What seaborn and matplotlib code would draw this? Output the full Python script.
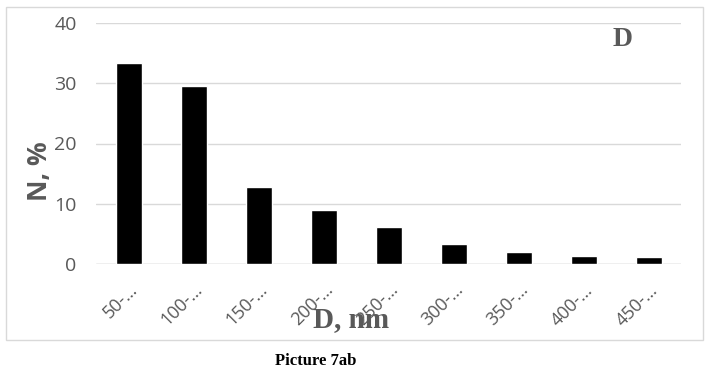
import matplotlib
matplotlib.use("Agg")
import matplotlib.pyplot as plt
import matplotlib.transforms as mtransforms
from matplotlib.patches import Rectangle
import seaborn as sns
import pandas as pd

categories = ["50-…", "100-…", "150-…", "200-…", "250-…", "300-…", "350-…", "400-…", "450-…"]
values = [33.4, 29.5, 12.7, 8.9, 6.2, 3.4, 2.0, 1.4, 1.1]
yticks = [0, 10, 20, 30, 40]

df = pd.DataFrame({"cat": categories, "val": values})

sns.set_theme(style="white")
plt.rcParams["font.family"] = ["Open Sans", "DejaVu Sans"]

fig = plt.figure(figsize=(7.12, 3.73), dpi=100)
ax = fig.add_axes([96/712, 1 - 264/373, (681 - 96)/712, (264 - 23)/373])

sns.barplot(data=df, x="cat", y="val", color="black", width=0.4,
            saturation=1, ax=ax, order=categories)

ax.set_ylim(0, 40)
ax.set_yticks(yticks)
ax.set_xlim(-0.5, len(categories) - 0.5)
ax.grid(axis="y", color="#d9d9d9", linewidth=1)
ax.set_axisbelow(True)
for s in ax.spines.values():
    s.set_visible(False)
ax.axhline(0, color="#d0d0d0", linewidth=1, zorder=0.5)
ax.tick_params(axis="y", length=0, pad=14, labelsize=14, labelcolor="#595959")
ax.tick_params(axis="x", length=0, pad=12, labelsize=13, labelcolor="#595959")
ax.set_xlabel("")
ax.set_ylabel("N, %", fontsize=19, fontweight="bold", color="#595959")
ax.yaxis.set_label_coords(-0.074, 0.385)

offset = mtransforms.ScaledTranslation(13/100, 0, fig.dpi_scale_trans)
for lab in ax.get_xticklabels():
    lab.set_rotation(45)
    lab.set_ha("right")
    lab.set_va("top")
    lab.set_transform(lab.get_transform() + offset)

# outer chart border
fig.patches.append(Rectangle((6/712, 1 - 340/373), (703 - 6)/712, (340 - 7)/373,
                             transform=fig.transFigure, fill=False,
                             edgecolor="#d9d9d9", linewidth=1))

serif = ["Liberation Serif", "DejaVu Serif"]
fig.text(351/712, 1 - 320/373, "D, nm", family=serif, fontsize=21, fontweight="bold",
         color="#595959", ha="center", va="center")
fig.text(623/712, 1 - 40/373, "D", family=serif, fontsize=20, fontweight="bold",
         color="#595959", ha="center", va="center")
fig.text(316/712, 1 - 361/373, "Picture 7ab", family=serif, fontsize=12,
         fontweight="bold", color="black", ha="center", va="center")

fig.savefig("out.png", dpi=100, facecolor="white")
